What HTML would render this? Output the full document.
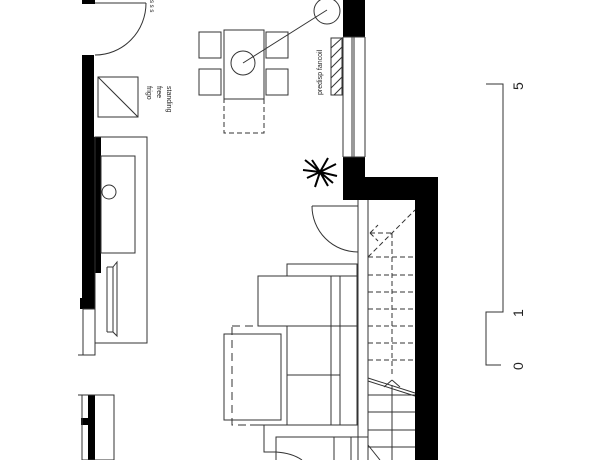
<!DOCTYPE html>
<html><head><meta charset="utf-8"><style>
html,body{margin:0;padding:0;background:#fff;}
svg{display:block;}
text{font-family:"Liberation Sans",sans-serif;fill:#222;}
</style></head><body>
<svg width="600" height="460" viewBox="0 0 600 460" xmlns="http://www.w3.org/2000/svg">
<g fill="#000" stroke="none">
<rect x="82" y="0" width="13" height="4"/>
<rect x="82" y="55" width="12" height="83"/>
<rect x="82" y="137" width="19" height="136"/>
<rect x="82" y="272" width="13" height="37"/>
<rect x="80" y="298" width="15" height="11"/>
<rect x="88" y="395" width="7" height="65"/>
<rect x="81" y="418" width="8" height="7"/>
<rect x="343" y="0" width="22" height="37"/>
<rect x="343" y="157" width="22" height="43"/>
<rect x="343" y="177" width="95" height="23"/>
<rect x="415" y="177" width="23" height="283"/>
</g>
<g fill="none" stroke="#333" stroke-width="1">
<!-- left door -->
<line x1="95" y1="3" x2="146" y2="3"/>
<path d="M146 3 A51 52 0 0 1 95 55"/>
<!-- left window -->
<rect x="83" y="309" width="12" height="46"/>
<line x1="78" y1="355" x2="95" y2="355"/>
<rect x="82" y="395" width="32" height="65"/>
<line x1="78" y1="395" x2="88" y2="395"/>
<!-- fridge -->
<rect x="98" y="77" width="40" height="40"/>
<line x1="98" y1="77" x2="138" y2="117"/>
<!-- counter -->
<rect x="95" y="137" width="52" height="206"/>
<rect x="101" y="156" width="34" height="97"/>
<circle cx="109" cy="192" r="7"/>
<path d="M113 267 L117 262 L117 336 L113 332 Z"/>
<line x1="107" y1="267" x2="107" y2="332"/>
<path d="M107 267 L113 267 M107 332 L113 332"/>
<!-- table -->
<rect x="224" y="30" width="40" height="69"/>
<rect x="199" y="32" width="22" height="26"/>
<rect x="199" y="69" width="22" height="26"/>
<rect x="266" y="32" width="22" height="26"/>
<rect x="266" y="69" width="22" height="26"/>
<rect x="224" y="99" width="40" height="34" stroke-dasharray="5,3"/>
<circle cx="243" cy="63" r="12"/>
<line x1="243" y1="63" x2="327" y2="10"/>
<circle cx="327" cy="11" r="13"/>
<!-- right window -->
<line x1="343" y1="37" x2="343" y2="157"/>
<line x1="352" y1="37" x2="352" y2="157"/>
<line x1="354" y1="37" x2="354" y2="157"/>
<line x1="365" y1="37" x2="365" y2="157"/>
<line x1="343" y1="37" x2="365" y2="37"/>
<line x1="343" y1="157" x2="365" y2="157"/>
<rect x="331" y="38" width="11" height="57"/>
<!-- door right -->
<line x1="312" y1="206" x2="358" y2="206"/>
<path d="M312 206 A46 46 0 0 0 358 252"/>
<line x1="358" y1="200" x2="358" y2="460"/>
<line x1="368" y1="200" x2="368" y2="460"/>
<!-- sofa -->
<rect x="287" y="264" width="70" height="12"/>
<rect x="258" y="276" width="99" height="50"/>
<rect x="287" y="326" width="70" height="99"/>
<line x1="287" y1="375" x2="340" y2="375"/>
<line x1="331" y1="276" x2="331" y2="425"/>
<line x1="340" y1="276" x2="340" y2="425"/>
<rect x="224" y="334" width="57" height="86"/>
<rect x="232" y="326" width="55" height="99" stroke-dasharray="8,5"/>
<!-- lower -->
<polyline points="250,425 357,425"/>
<polyline points="264,425 264,452 276,452"/>
<polyline points="276,460 276,437 368,437"/>
<line x1="334" y1="437" x2="334" y2="460"/>
<line x1="351" y1="437" x2="351" y2="460"/>
<path d="M276 452 Q292 453 302 460"/>
<!-- stairs -->
<g stroke-dasharray="5,3">
<line x1="368" y1="257" x2="415" y2="257"/>
<line x1="368" y1="275" x2="415" y2="275"/>
<line x1="368" y1="292" x2="415" y2="292"/>
<line x1="368" y1="309" x2="415" y2="309"/>
<line x1="368" y1="326" x2="415" y2="326"/>
<line x1="368" y1="343" x2="415" y2="343"/>
<line x1="368" y1="360" x2="415" y2="360"/>
<line x1="392" y1="233" x2="392" y2="377"/>
<line x1="368" y1="257" x2="415" y2="210"/>
<line x1="370" y1="233" x2="392" y2="233"/>
<line x1="370" y1="233" x2="378" y2="225"/>
<line x1="370" y1="233" x2="378" y2="241"/>
</g>
<line x1="368" y1="378" x2="415" y2="393"/>
<line x1="368" y1="381" x2="415" y2="396"/>
<line x1="384" y1="387" x2="392" y2="380"/><line x1="400" y1="387" x2="392" y2="380"/>
<line x1="368" y1="395" x2="415" y2="395"/>
<line x1="368" y1="412" x2="415" y2="412"/>
<line x1="368" y1="430" x2="415" y2="430"/>
<line x1="368" y1="447" x2="415" y2="447"/>
<line x1="392" y1="385" x2="392" y2="460"/>
<line x1="368" y1="445" x2="380" y2="460"/>
<!-- scale -->
<polyline points="486,84 503,84 503,312 486,312 486,365 501,365"/>
</g>
<g stroke="#333" stroke-width="1">
<line x1="331" y1="48" x2="342" y2="38"/><line x1="331" y1="58" x2="342" y2="47"/><line x1="331" y1="68" x2="342" y2="57"/><line x1="331" y1="78" x2="342" y2="67"/><line x1="331" y1="88" x2="342" y2="77"/><line x1="334" y1="95" x2="342" y2="87"/>
</g>
<!-- plant -->
<g stroke="#000" stroke-width="2" fill="none">
<path d="M320 172 L305 160 M320 172 L307 178 M320 172 L312 160 M320 172 L328 158 M320 172 L336 164 M320 172 L337 176 M320 172 L328 186 M320 172 L315 187 M320 172 L303 170 M320 172 L333 183"/>
</g>
<g font-size="7">
<text transform="translate(147,86) rotate(90)">frigo</text>
<text transform="translate(157,86) rotate(90)">free</text>
<text transform="translate(167,86) rotate(90)">standing</text>
<text transform="translate(322,95) rotate(-90)">predisp fancoil</text>
<text transform="translate(150,0) rotate(90)" font-size="6">s s s</text>
</g>
<g font-size="14">
<text transform="translate(523,90) rotate(-90)">5</text>
<text transform="translate(523,317) rotate(-90)">1</text>
<text transform="translate(523,370) rotate(-90)">0</text>
</g>
</svg>
</body></html>
